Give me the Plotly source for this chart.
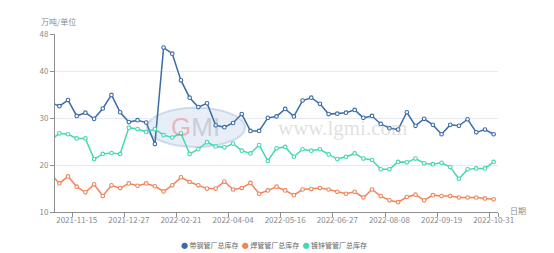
import plotly.graph_objects as go

# categories (first one lies just outside the visible window, as in the reference)
dates = [
    "2021-10-25",
    "2021-11-01", "2021-11-08", "2021-11-15", "2021-11-22", "2021-11-29",
    "2021-12-06", "2021-12-13", "2021-12-20", "2021-12-27",
    "2022-01-03", "2022-01-10", "2022-01-17", "2022-01-24",
    "2022-02-14", "2022-02-21", "2022-02-28", "2022-03-07", "2022-03-14",
    "2022-03-21", "2022-03-28", "2022-04-04", "2022-04-11", "2022-04-18",
    "2022-04-25", "2022-05-02", "2022-05-09", "2022-05-16", "2022-05-23",
    "2022-05-30", "2022-06-06", "2022-06-13", "2022-06-20", "2022-06-27",
    "2022-07-04", "2022-07-11", "2022-07-18", "2022-07-25", "2022-08-01",
    "2022-08-08", "2022-08-15", "2022-08-22", "2022-08-29", "2022-09-05",
    "2022-09-12", "2022-09-19", "2022-09-26", "2022-10-03", "2022-10-10",
    "2022-10-17", "2022-10-24", "2022-10-31",
]

strip_steel = [
    33.4,
    32.6, 33.9, 30.5, 31.2, 29.9, 32.1, 35.0, 31.3, 29.2, 29.6,
    29.1, 24.5, 45.1, 43.8, 38.1, 34.4, 32.4, 33.2, 28.5, 28.1,
    29.0, 30.9, 27.3, 27.3, 30.1, 30.4, 32.0, 30.4, 33.8, 34.4,
    33.1, 30.9, 31.0, 31.2, 31.8, 30.1, 30.5, 28.8, 27.9, 27.6,
    31.3, 28.4, 29.9, 28.6, 26.6, 28.6, 28.4, 29.8, 27.0, 27.6,
    26.6,
]
welded_pipe = [
    18.2,
    16.1, 17.6, 15.4, 14.2, 15.9, 13.4, 15.7, 15.1, 16.1, 15.6,
    16.1, 15.5, 14.4, 15.7, 17.4, 16.4, 15.7, 15.0, 15.0, 16.5,
    14.8, 15.1, 16.2, 13.9, 14.6, 15.4, 14.6, 13.6, 14.8, 14.9,
    15.1, 14.8, 14.3, 13.9, 14.3, 13.1, 14.8, 13.4, 12.5, 12.1,
    13.2, 13.7, 12.5, 13.6, 13.4, 13.4, 13.1, 13.1, 13.1, 12.9,
    12.7,
]
galvanized_pipe = [
    25.3,
    26.8, 26.6, 25.7, 25.7, 21.3, 22.4, 22.6, 22.4, 28.0, 27.7,
    27.1, 27.7, 26.4, 25.9, 26.8, 22.4, 23.4, 24.9, 24.0, 23.8,
    24.6, 23.1, 22.5, 24.3, 20.9, 23.6, 23.9, 21.8, 23.4, 23.1,
    23.4, 22.3, 21.3, 21.8, 22.5, 21.4, 21.1, 19.1, 19.1, 20.7,
    20.6, 21.4, 20.4, 20.2, 20.5, 19.6, 17.1, 19.1, 19.3, 19.3,
    20.7,
]

series_names = ["带钢管厂总库存", "焊管管厂总库存", "镀锌管管厂总库存"]
series_values = [strip_steel, welded_pipe, galvanized_pipe]
colors = ["#3c6da6", "#f0845a", "#44d9b0"]

x_ticks = ["2021-11-15", "2021-12-27", "2022-02-21", "2022-04-04", "2022-05-16",
           "2022-06-27", "2022-08-08", "2022-09-19", "2022-10-31"]
y_ticks = [10, 20, 30, 40, 48]

FONT = "Noto Sans CJK SC, Noto Sans, sans-serif"

fig = go.Figure()
for name, vals, c in zip(series_names, series_values, colors):
    fig.add_trace(go.Scatter(
        x=dates, y=vals, name=name, mode="lines+markers",
        line=dict(color=c, width=1.5),
        marker=dict(symbol="circle", size=3.6, color="white",
                    line=dict(color=c, width=1.1)),
        cliponaxis=True,
    ))

# watermark
fig.add_shape(type="circle", xref="paper", yref="paper",
              x0=0.208, x1=0.429, y0=0.365, y1=0.585,
              fillcolor="rgba(175,198,228,0.30)",
              line=dict(color="rgba(150,178,215,0.40)", width=2), layer="below")
fig.add_annotation(xref="paper", yref="paper", x=0.318, y=0.475,
                   text='<span style="color:rgba(225,95,95,0.40)">G</span>'
                        '<span style="color:rgba(150,150,160,0.40)">MI</span>',
                   showarrow=False, font=dict(family="Liberation Sans", size=26),
                   xanchor="center", yanchor="middle")
fig.add_annotation(xref="paper", yref="paper", x=0.649, y=0.47,
                   text="www.lgmi.com", showarrow=False,
                   font=dict(family="Liberation Serif", size=21,
                             color="rgba(175,175,175,0.40)"),
                   xanchor="center", yanchor="middle")

# axis names
fig.add_annotation(xref="paper", yref="paper", x=-0.035, y=1.07,
                   text="万吨/单位", showarrow=False,
                   font=dict(family=FONT, size=8, color="#8a8a8a"),
                   xanchor="left", yanchor="middle")
fig.add_annotation(xref="paper", yref="paper", x=1.022, y=0.01,
                   text="日期", showarrow=False,
                   font=dict(family=FONT, size=8, color="#8a8a8a"),
                   xanchor="left", yanchor="middle")

# legend (drawn as text)
leg = "  ".join(
    f'<span style="color:{c}">●</span> {n}' for n, c in zip(series_names, colors)
)
fig.add_annotation(xref="paper", yref="paper", x=0.495, y=-0.185,
                   text=leg, showarrow=False,
                   font=dict(family=FONT, size=7, color="#666666"),
                   xanchor="center", yanchor="middle")

fig.update_layout(
    width=554, height=253,
    margin=dict(l=55, r=56, t=34, b=41),
    paper_bgcolor="white", plot_bgcolor="white",
    showlegend=False,
    font=dict(family=FONT, size=8, color="#8a8a8a"),
    xaxis=dict(
        type="category", categoryorder="array", categoryarray=dates,
        range=[0.5, len(dates) - 0.5],
        tickmode="array", tickvals=x_ticks, ticktext=x_ticks,
        tickson="boundaries", tickangle=0,
        showgrid=False, showline=True, linecolor="#8f8f8f", linewidth=1,
        ticks="outside", ticklen=4, tickcolor="#8f8f8f",
        tickfont=dict(size=8, color="#8a8a8a"),
        zeroline=False, fixedrange=True,
    ),
    yaxis=dict(
        range=[10, 48], tickmode="array", tickvals=y_ticks,
        showgrid=True, gridcolor="#e6e9ef", gridwidth=1,
        showline=True, linecolor="#8f8f8f", linewidth=1,
        ticks="outside", ticklen=4, tickcolor="#8f8f8f",
        tickfont=dict(size=8, color="#8a8a8a"),
        zeroline=False, fixedrange=True,
    ),
)

fig.write_html("out.html")
